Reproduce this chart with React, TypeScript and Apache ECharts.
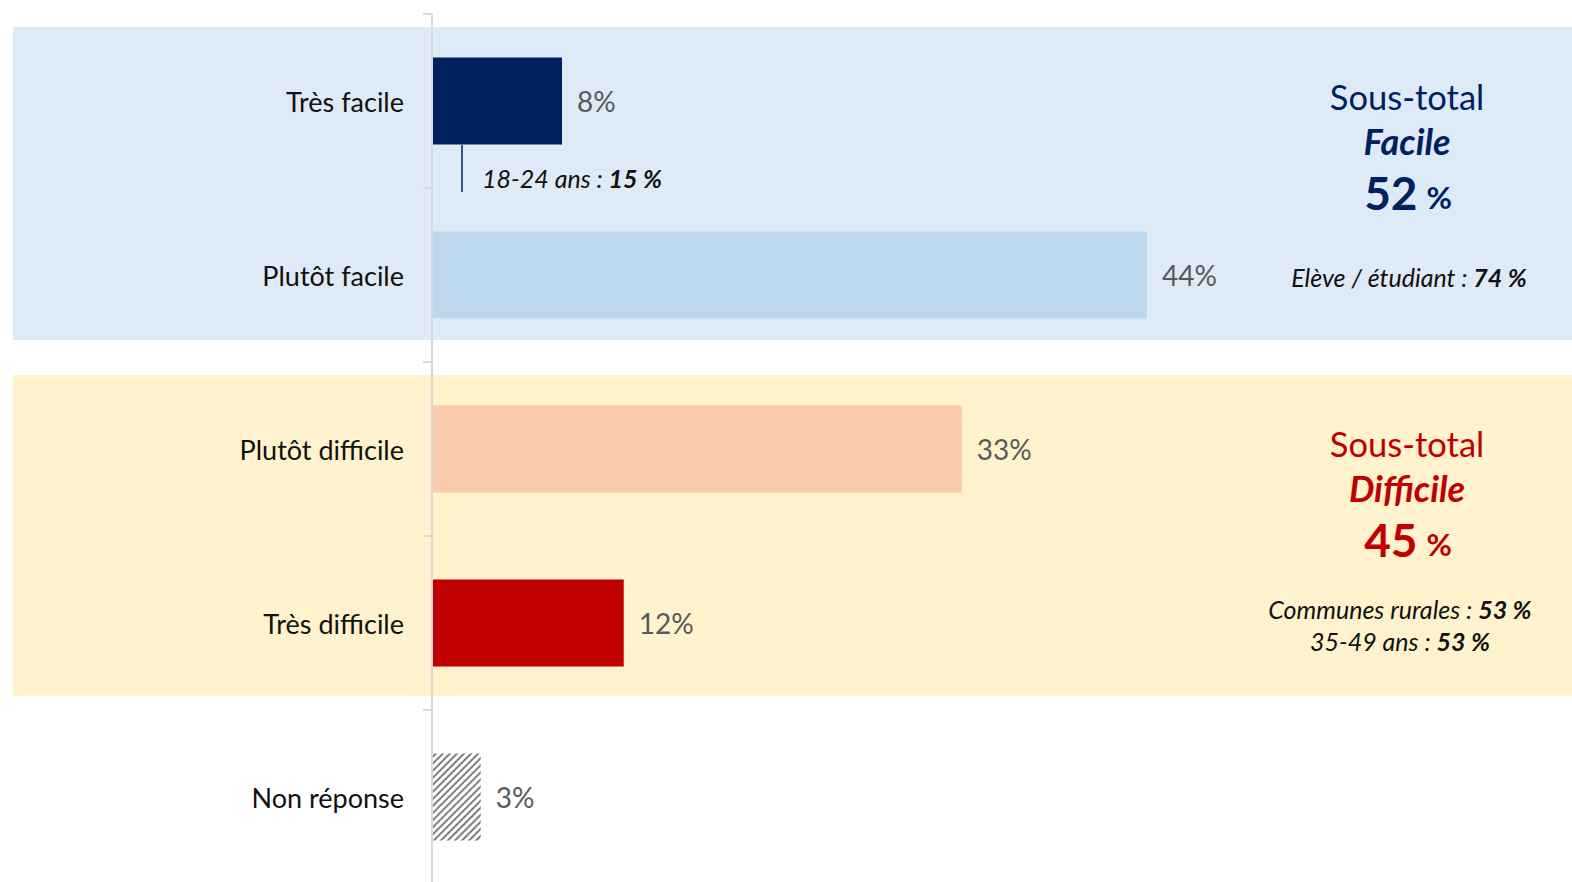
import React, { useEffect, useRef } from "react";
import * as echarts from "echarts";

const categories = ["Très facile", "Plutôt facile", "Plutôt difficile", "Très difficile", "Non réponse"];
const values = [8, 44, 32.6, 11.8, 3];
const barColors = ["#002060", "#BDD7EE", "#F8CBAD", "#C00000", "#FFFFFF"];
const subTotalFacile = "52";
const subTotalDifficile = "45";

const FONT = "Lato, 'Open Sans', sans-serif";
const NOTE = 25;

function note(x: number, y: number, a: string, b: string) {
  return {
    type: "text", z: 10, x, y,
    style: {
      text: "{i|" + a + "}{b|" + b + "}", align: "center", verticalAlign: "middle",
      rich: {
        i: { fontSize: NOTE, fontStyle: "italic", fontFamily: FONT, fill: "#111" },
        b: { fontSize: NOTE, fontStyle: "italic", fontWeight: "bold", fontFamily: FONT, fill: "#111" },
      },
    },
  };
}

function subtotal(yTop: number, word: string, value: string, color: string) {
  return [
    { type: "text", z: 10, x: 1407, y: yTop, style: { text: "Sous-total", align: "center", verticalAlign: "middle", fontSize: 34.5, fontFamily: FONT, fill: color } },
    { type: "text", z: 10, x: 1407, y: yTop + 45, style: { text: word, align: "center", verticalAlign: "middle", fontSize: 36, fontStyle: "italic", fontWeight: "bold", fontFamily: FONT, fill: color } },
    {
      type: "text", z: 10, x: 1408, y: yTop + 96,
      style: {
        text: "{a|" + value + "}{p|%}", align: "center", verticalAlign: "middle",
        rich: {
          a: { fontSize: 46, fontWeight: "bold", fontFamily: FONT, fill: color },
          p: { fontSize: 31, fontWeight: "bold", fontFamily: FONT, fill: color, padding: [10, 0, 0, 9] },
        },
      },
    },
  ];
}

export default function App() {
  const ref = useRef<HTMLDivElement>(null);
  useEffect(() => {
    if (!ref.current) return;
    const chart = echarts.init(ref.current, null, { renderer: "svg" });
    const data = values.map((v, i) => {
      const item: any = { value: v, itemStyle: { color: barColors[i] } };
      if (i === 4) {
        item.itemStyle = {
          color: "#FFFFFF",
          decal: {
            symbol: "rect",
            symbolSize: 1,
            color: "#7F7F7F",
            backgroundColor: "#FFFFFF",
            dashArrayX: [1, 0],
            dashArrayY: [2, 2.5],
            rotation: -Math.PI / 4,
          },
        };
      }
      return item;
    });
    chart.setOption({
      animation: false,
      grid: { left: 432, right: 2.5, top: 14, bottom: 0, containLabel: false },
      xAxis: { type: "value", min: 0, max: 70, show: false },
      yAxis: {
        type: "category",
        data: categories,
        inverse: true,
        axisLine: { show: true, lineStyle: { color: "#D9D9D9", width: 2 } },
        axisTick: { show: true, length: 9, lineStyle: { color: "#D9D9D9", width: 2 } },
        axisLabel: { margin: 28, color: "#111111", fontSize: 27, fontFamily: FONT },
        z: 5,
      },
      graphic: [
        { type: "rect", z: -10, shape: { x: 13, y: 27, width: 1572 - 13, height: 313 }, style: { fill: "#DEEAF6" } },
        { type: "rect", z: -10, shape: { x: 13, y: 375, width: 1572 - 13, height: 321 }, style: { fill: "#FFF2CC" } },
        { type: "line", z: 10, shape: { x1: 462, y1: 145, x2: 462, y2: 192 }, style: { stroke: "#002060", lineWidth: 1.5 } },
        {
          type: "text", z: 10, x: 482, y: 178,
          style: {
            text: "{i|18-24 ans : }{b|15 %}",
            verticalAlign: "middle",
            rich: {
              i: { fontSize: NOTE, fontStyle: "italic", fontFamily: FONT, fill: "#111" },
              b: { fontSize: NOTE, fontStyle: "italic", fontWeight: "bold", fontFamily: FONT, fill: "#111" },
            },
          },
        },
        ...subtotal(96, "Facile", subTotalFacile, "#002060"),
        note(1409, 277, "Elève / étudiant : ", "74 %"),
        ...subtotal(443, "Difficile", subTotalDifficile, "#C00000"),
        note(1400, 609, "Communes rurales : ", "53 %"),
        note(1400, 641, "35-49 ans : ", "53 %"),
      ],
      series: [
        {
          type: "bar",
          data,
          barWidth: "50%",
          z: 3,
          label: {
            show: true,
            position: "right",
            distance: 15,
            color: "#595959",
            fontSize: 28,
            fontFamily: FONT,
            formatter: (p: any) => Math.round(p.value) + "%",
          },
        },
      ],
    });
    return () => chart.dispose();
  }, []);
  return <div ref={ref} style={{ position: "fixed", left: 0, top: 0, width: 1572, height: 884, background: "#fff" }} />;
}
